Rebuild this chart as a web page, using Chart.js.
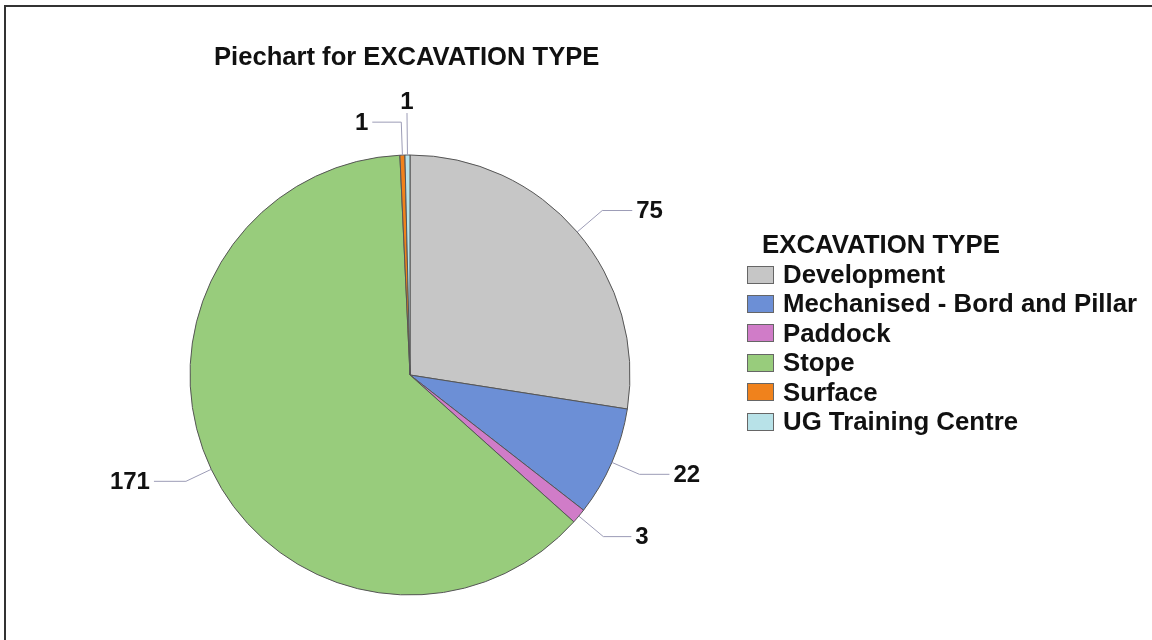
<!DOCTYPE html>
<html>
<head>
<meta charset="utf-8">
<script src="https://cdn.jsdelivr.net/npm/chart.js@4"></script>
<style>
  body { margin: 0; background: #fff; font-family: "Liberation Sans", Arial, sans-serif; }
  #wrap { position: relative; width: 1152px; height: 640px; overflow: hidden; }
  #frame { position: absolute; left: 4px; top: 5px; width: 1160px; height: 650px;
           border-left: 2px solid #333; border-top: 2px solid #333; }
  #titulo { position: absolute; left: 214px; top: 42px; font-weight: bold; font-size: 25.6px; color: #111; white-space: nowrap; }
  #legenda { position: absolute; left: 747px; top: 229px; color: #111; font-weight: bold; font-size: 25.8px; }
  #legenda .tit { margin-left: 15px; height: 31px; line-height: 31px; }
  #legenda .item { height: 29.4px; line-height: 29.4px; white-space: nowrap; display: flex; align-items: center; }
  #legenda .cx { display: inline-block; width: 25px; height: 16px; border: 1px solid #666; margin-right: 9px; }
  canvas { position: absolute; left: 0; top: 0; }
</style>
</head>
<body>
<div id="wrap">
  <canvas id="graficoPizza" width="1152" height="640"></canvas>
  <div id="frame"></div>
  <div id="titulo">Piechart for EXCAVATION TYPE</div>
  <div id="legenda"></div>
</div>
<script>
const tipos = ['Development', 'Mechanised - Bord and Pillar', 'Paddock', 'Stope', 'Surface', 'UG Training Centre'];
const contagens = [75, 22, 3, 171, 1, 1];
const cores = ['#c6c6c6', '#6c8fd6', '#d07cc8', '#98cc7c', '#f0821c', '#b8e2e8'];

// leader line layout for each slice: extra radius to the elbow, horizontal run (0 = label above)
const extraCotovelo = [33, 30, 32, 28, 33, 42];
const trechoHoriz = [30, 30, 28, 32, 29, 0];

// legend in html
const legenda = document.getElementById('legenda');
legenda.innerHTML = '<div class="tit">EXCAVATION TYPE</div>' +
    tipos.map((t, i) => '<div class="item"><span class="cx" style="background:' + cores[i] + '"></span>' + t + '</div>').join('');

const rotulosPlugin = {
    id: 'rotulos',
    afterDatasetsDraw(chart) {
        const ctx = chart.ctx;
        const arcos = chart.getDatasetMeta(0).data;
        ctx.save();
        ctx.font = 'bold 24px "Liberation Sans", Arial, sans-serif';
        ctx.fillStyle = '#111';
        ctx.strokeStyle = '#9c9cb6';
        ctx.lineWidth = 1;
        arcos.forEach((arco, i) => {
            const a = (arco.startAngle + arco.endAngle) / 2;
            const r = arco.outerRadius;
            const x0 = arco.x + Math.cos(a) * r;
            const y0 = arco.y + Math.sin(a) * r;
            const x1 = arco.x + Math.cos(a) * (r + extraCotovelo[i]);
            const y1 = arco.y + Math.sin(a) * (r + extraCotovelo[i]);
            const lado = Math.cos(a) >= 0 ? 1 : -1;
            const x2 = x1 + lado * trechoHoriz[i];
            ctx.beginPath();
            ctx.moveTo(x0, y0);
            ctx.lineTo(x1, y1);
            ctx.lineTo(x2, y1);
            ctx.stroke();
            if (trechoHoriz[i] === 0) {
                ctx.textAlign = 'center';
                ctx.textBaseline = 'bottom';
                ctx.fillText(contagens[i], x1, y1 + 1);
            } else {
                ctx.textAlign = lado > 0 ? 'left' : 'right';
                ctx.textBaseline = 'middle';
                ctx.fillText(contagens[i], x2 + lado * 4, y1 + 1);
            }
        });
        ctx.restore();
    }
};

const graficoPizza = new Chart(document.getElementById('graficoPizza'), {
    type: 'pie',
    data: {
        labels: tipos,
        datasets: [{
            data: contagens,
            backgroundColor: cores,
            borderColor: '#555',
            borderWidth: 1
        }]
    },
    options: {
        responsive: false,
        animation: false,
        radius: 220,
        layout: { padding: { left: 190, right: 522, top: 155, bottom: 45 } },
        plugins: {
            legend: { display: false },
            tooltip: { enabled: false }
        }
    },
    plugins: [rotulosPlugin]
});
</script>
</body>
</html>
